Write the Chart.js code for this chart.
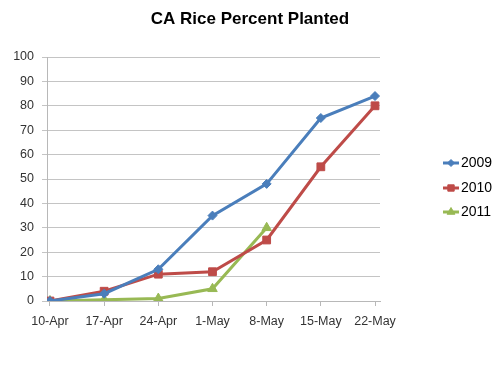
<!DOCTYPE html>
<html>
<head>
<meta charset="utf-8">
<script src="https://cdn.jsdelivr.net/npm/chart.js@4.4.1/dist/chart.umd.min.js"></script>
<style>
html,body{margin:0;padding:0;background:#fff;}
#wrap{width:500px;height:375px;}
</style>
</head>
<body>
<div id="wrap"><canvas id="c" width="500" height="375"></canvas></div>
<script>
const categories = ["10-Apr","17-Apr","24-Apr","1-May","8-May","15-May","22-May"];
const seriesNames = ["2009","2010","2011"];
const values2009 = [0, 3, 13, 35, 48, 75, 84];
const values2010 = [0, 4, 11, 12, 25, 55, 80];
const values2011 = [0, 0.5, 1, 5, 30, null, null];
const yTicks = [0,10,20,30,40,50,60,70,80,90,100];
const titleText = "CA Rice Percent Planted";

const colors = ["#4A7EBB","#BE4B48","#98B954"];
const styles = ["rectRot","rect","triangle"];
const radii = [4.5, 5.5, 5.5];
const legendRadii = [3.5, 4.5, 4.5];
const allValues = [values2009, values2010, values2011];
const FONT = "'Liberation Sans', Arial, sans-serif";

const toPoints = arr => arr.map((v,i)=>({x:i,y:v}));

const datasets = seriesNames.map((name,k)=>({
  label: name,
  data: toPoints(allValues[k]),
  borderColor: colors[k],
  backgroundColor: colors[k],
  borderWidth: 3,
  pointStyle: styles[k],
  pointRadius: radii[k],
  pointHoverRadius: radii[k],
  pointBorderWidth: 1,
  tension: 0,
  spanGaps: false
}));

const decorPlugin = {
  id: 'decor',
  afterDraw(chart){
    const ctx = chart.ctx;
    ctx.save();
    // title
    ctx.fillStyle = "#000";
    ctx.font = "bold 17px " + FONT;
    ctx.textAlign = "center";
    ctx.textBaseline = "middle";
    ctx.fillText(titleText, 250, 19);
    // legend
    const ys = [163, 188, 212];
    seriesNames.forEach((name,k)=>{
      const y = ys[k];
      ctx.strokeStyle = colors[k];
      ctx.lineWidth = 3;
      ctx.beginPath();
      ctx.moveTo(443, y);
      ctx.lineTo(459, y);
      ctx.stroke();
      ctx.fillStyle = colors[k];
      ctx.strokeStyle = colors[k];
      ctx.lineWidth = 1;
      Chart.helpers.drawPoint(ctx, {pointStyle: styles[k], radius: legendRadii[k], borderWidth: 1}, 451, y);
      ctx.fillStyle = "#000";
      ctx.font = "14px " + FONT;
      ctx.textAlign = "left";
      ctx.textBaseline = "middle";
      ctx.fillText(name, 461, y);
    });
    ctx.restore();
  }
};

new Chart(document.getElementById('c'), {
  type: 'line',
  data: { datasets },
  plugins: [decorPlugin],
  options: {
    responsive: false,
    animation: false,
    events: [],
    layout: { padding: { left: 0, right: 120, top: 57, bottom: 24 } },
    plugins: {
      legend: { display: false },
      tooltip: { enabled: false },
      title: { display: false }
    },
    scales: {
      x: {
        type: 'linear',
        min: -0.055,
        max: 6.092,
        afterBuildTicks: s => { s.ticks = categories.map((c,i)=>({value:i})); },
        afterFit: s => { s.height = 50; },
        ticks: {
          callback: (v) => categories[v] !== undefined ? categories[v] : '',
          color: "#333",
          font: { family: FONT, size: 12.5 },
          padding: 8,
          maxRotation: 0,
          autoSkip: false
        },
        grid: { drawOnChartArea: false, drawTicks: true, tickLength: 5, color: "#b8b8b8" },
        border: { color: "#b8b8b8", width: 1 }
      },
      y: {
        min: 0,
        max: 100,
        afterBuildTicks: s => { s.ticks = yTicks.map(v=>({value:v})); },
        afterFit: s => { s.width = 47; },
        ticks: {
          color: "#333",
          font: { family: FONT, size: 12.5 },
          padding: 8
        },
        grid: { color: "#c4c4c4", lineWidth: 1, tickLength: 5 },
        border: { color: "#b8b8b8", width: 1 }
      }
    }
  }
});
</script>
</body>
</html>
